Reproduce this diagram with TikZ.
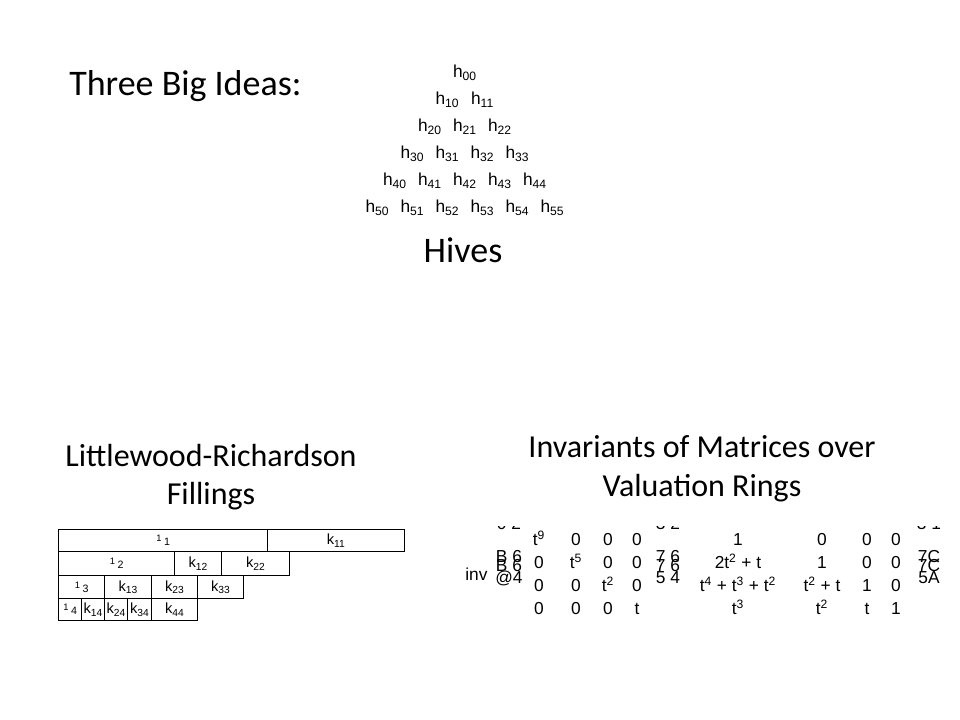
\documentclass[tikz,border=0pt]{standalone}
\usepackage{fontspec}
\setmainfont{Carlito}
\newfontfamily\arialfont{Liberation Sans}
\newcommand\lrlam[1]{\raisebox{3pt}{\scriptsize 1}\,{\footnotesize #1}}
\newcommand\tp[1]{t\textsuperscript{#1}}
\begin{document}
\begin{tikzpicture}[x=0.75pt,y=-0.75pt,
		headline/.style={font=\fontsize{27}{32}\selectfont, inner sep=0pt},
		caption/.style={font=\fontsize{24}{29}\selectfont, align=center, inner sep=0pt},
		hivelabel/.style={font=\arialfont\fontsize{13}{15}\selectfont, inner sep=0pt},
		lrcell/.style={draw, line width=1.1pt, anchor=north west, inner sep=0pt,
		font=\arialfont\fontsize{11}{13}\selectfont},
		entry/.style={font=\arialfont\fontsize{13}{15}\selectfont, inner sep=0pt, anchor=base},
		piece/.style={font=\arialfont\fontsize{13}{15}\selectfont, inner sep=0pt, anchor=base}
		]
	\useasboundingbox (0,0) rectangle (960,720);

	% titles
	\node[headline, anchor=base west](T0) at (69,96){Three Big Ideas:};
	\node[headline, anchor=base](T1) at (463,263){Hives};
	\node[caption](T2) at (211,477){Littlewood-Richardson\\Fillings};
	\node[caption](T3) at (702,469){Invariants of Matrices over\\Valuation Rings};

	% hive
	\foreach \r in {0,...,5}
		\foreach \c in {0,...,\r}
			\node[hivelabel](H\r\c) at ({465+(\c-\r/2)*35},{73+\r*27}){h\textsubscript{\r\c}};

	% Littlewood-Richardson filling
	\node[lrcell, minimum width=156.75pt, minimum height=16.5pt](L1) at (58,529){\lrlam{1}};
	\node[lrcell, minimum width=102.75pt, minimum height=16.5pt](K11) at (267,529){k\textsubscript{11}};
	\node[lrcell, minimum width=87pt, minimum height=18pt](L2) at (58,551){\lrlam{2}};
	\node[lrcell, minimum width=35.25pt, minimum height=18pt](K12) at (174,551){k\textsubscript{12}};
	\node[lrcell, minimum width=51pt, minimum height=18pt](K22) at (221,551){k\textsubscript{22}};
	\node[lrcell, minimum width=34.5pt, minimum height=17.25pt](L3) at (58,575){\lrlam{3}};
	\node[lrcell, minimum width=35.25pt, minimum height=17.25pt](K13) at (104,575){k\textsubscript{13}};
	\node[lrcell, minimum width=34.5pt, minimum height=17.25pt](K23) at (151,575){k\textsubscript{23}};
	\node[lrcell, minimum width=34.5pt, minimum height=17.25pt](K33) at (197,575){k\textsubscript{33}};
	\node[lrcell, minimum width=17.25pt, minimum height=16.5pt](L4) at (58,598){\lrlam{4}};
	\node[lrcell, minimum width=17.25pt, minimum height=16.5pt](K14) at (81,598){k\textsubscript{14}};
	\node[lrcell, minimum width=17.25pt, minimum height=16.5pt](K24) at (104,598){k\textsubscript{24}};
	\node[lrcell, minimum width=18pt, minimum height=16.5pt](K34) at (127,598){k\textsubscript{34}};
	\node[lrcell, minimum width=34.5pt, minimum height=16.5pt](K44) at (151,598){k\textsubscript{44}};

	% matrices over valuation ring
	\begin{scope}
	\clip (450,526.5) rectangle (960,640);
	\node[entry, anchor=base west](INV) at (465,580){inv};
	\node[piece](P0) at (509,529){0 2};
	\node[piece](P1) at (509,562){B 6};
	\node[piece](P2) at (509,571){B 6};
	\node[piece](P3) at (509,583){@4};
	\node[piece](Q0) at (668,529){3 2};
	\node[piece](Q1) at (668,562){7 6};
	\node[piece](Q2) at (668,571){7 6};
	\node[piece](Q3) at (668,583){5 4};
	\node[piece](R0) at (929,529){3 1};
	\node[piece](R1) at (929,562){7C};
	\node[piece](R2) at (929,571){7C};
	\node[piece](R3) at (929,583){5A};

	\node[entry](M11) at (539,545){\tp{9}};
	\node[entry](M12) at (576,545){0};
	\node[entry](M13) at (608,545){0};
	\node[entry](M14) at (637,545){0};
	\node[entry](M21) at (539,568){0};
	\node[entry](M22) at (576,568){\tp{5}};
	\node[entry](M23) at (608,568){0};
	\node[entry](M24) at (637,568){0};
	\node[entry](M31) at (539,591){0};
	\node[entry](M32) at (576,591){0};
	\node[entry](M33) at (608,591){\tp{2}};
	\node[entry](M34) at (637,591){0};
	\node[entry](M41) at (539,614){0};
	\node[entry](M42) at (576,614){0};
	\node[entry](M43) at (608,614){0};
	\node[entry](M44) at (637,614){t};

	\node[entry](N11) at (738,545){1};
	\node[entry](N12) at (822,545){0};
	\node[entry](N13) at (867,545){0};
	\node[entry](N14) at (896,545){0};
	\node[entry](N21) at (738,568){2\tp{2} + t};
	\node[entry](N22) at (822,568){1};
	\node[entry](N23) at (867,568){0};
	\node[entry](N24) at (896,568){0};
	\node[entry](N31) at (738,591){\tp{4} + \tp{3} + \tp{2}};
	\node[entry](N32) at (822,591){\tp{2} + t};
	\node[entry](N33) at (867,591){1};
	\node[entry](N34) at (896,591){0};
	\node[entry](N41) at (738,614){\tp{3}};
	\node[entry](N42) at (822,614){\tp{2}};
	\node[entry](N43) at (867,614){t};
	\node[entry](N44) at (896,614){1};
	\end{scope}
\end{tikzpicture}
\end{document}
